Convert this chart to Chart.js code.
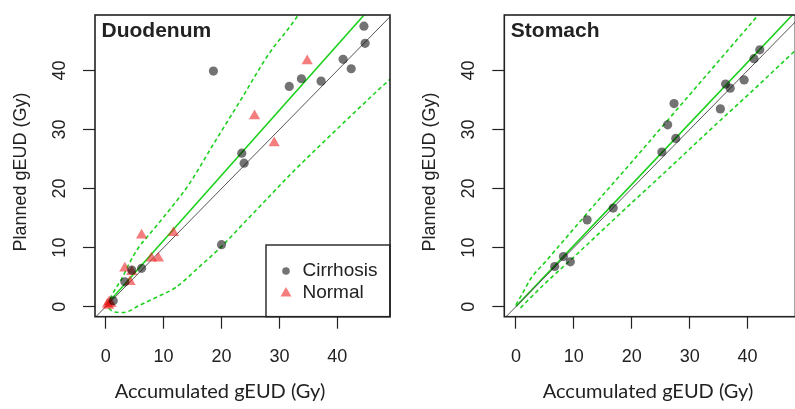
<!DOCTYPE html>
<html lang="en">
<head>
<meta charset="UTF-8">
<title>Planned vs accumulated gEUD</title>
<script src="https://cdn.jsdelivr.net/npm/chart.js"></script>
<style>
    body {
        margin: 0;
        background: #fff;
        width: 795px;
        height: 409px;
        overflow: hidden;
        position: relative;
    }
    canvas {
        position: absolute;
        top: 0;
    }
    #duoChart { left: 0; }
    #stoChart { left: 400px; }
</style>
</head>
<body>
<canvas id="duoChart" width="400" height="409"></canvas>
<canvas id="stoChart" width="400" height="409"></canvas>

<script>
// ---- data ----
const xTicks = [0, 10, 20, 30, 40];
const yTicks = [0, 10, 20, 30, 40];
const identity = [-5, 60];   // y = x reference line

// Duodenum
const duoCirrX = [18.6, 44.6, 44.8, 41.0, 42.4, 31.7, 33.8, 37.2, 23.5, 23.9, 20.0, 6.2, 4.5, 3.3, 1.3];
const duoCirrY = [39.9, 47.5, 44.6, 41.9, 40.3, 37.3, 38.6, 38.2, 26.0, 24.3, 10.5, 6.5, 6.2, 4.2, 1.0];
const duoNormX = [34.8, 25.7, 29.1, 6.2, 11.7, 7.9, 9.1, 3.3, 4.5, 4.2, 0.3, 0.6, 0.9, 0.5];
const duoNormY = [41.6, 32.3, 27.7, 12.1, 12.5, 8.2, 8.2, 6.5, 5.9, 4.2, 0.4, 0.8, 0.5, 0.2];
const duoFitX = [0.2, 44.8];
const duoFitY = [0.4, 49.6];
const duoUpX = [0.1, 0.45, 1.5, 2.8, 4, 5.6, 7.5, 9.7, 12, 14.3, 18.9, 23.5, 28.1, 32.7, 34];
const duoUpY = [0.3, 0.85, 2.7, 4.8, 7.2, 9.9, 12.2, 14.8, 17.6, 20.6, 28.0, 35.3, 42.7, 48.6, 50.6];
const duoLoX = [0.5, 1.5, 3, 6, 9, 12, 16, 20, 24, 28, 32, 37, 42, 47.4, 50];
const duoLoY = [-0.3, -0.9, -1.0, 0.3, 1.7, 3.2, 6.6, 10.2, 14.3, 18.4, 22.5, 27.3, 32.0, 37.0, 39.3];

// Stomach
const stoCirrX = [6.7, 8.2, 9.4, 12.3, 16.8, 25.2, 26.2, 27.6, 27.3, 35.3, 36.2, 37.0, 39.4, 41.1, 42.1];
const stoCirrY = [6.8, 8.5, 7.6, 14.7, 16.7, 26.2, 30.8, 28.5, 34.4, 33.5, 37.7, 37.0, 38.4, 42.0, 43.5];
const stoFitX = [0, 48.5];
const stoFitY = [0, 50.2];
const stoUpX = [0, 1, 2.6, 5, 10, 15, 20, 25, 30, 35, 40, 43.5];
const stoUpY = [0.3, 2.0, 4.8, 7.5, 13.2, 18.9, 24.5, 30.2, 35.9, 41.6, 47.3, 51.3];
const stoLoX = [0.8, 2, 5, 10, 15, 20, 25, 30, 35, 40, 45, 49];
const stoLoY = [-0.2, 1.0, 3.9, 8.4, 13.0, 17.6, 22.1, 26.7, 31.3, 35.8, 40.4, 44.1];

// ---- styling ----
const INK = '#222';
const GRAY_PT = 'rgba(0,0,0,0.55)';
const RED_PT = 'rgba(235,20,20,0.55)';
const GREEN = '#1fd11f';
const ARIAL = '"Liberation Sans", Arial, sans-serif';

Chart.defaults.font.family = ARIAL;

function pts(xs, ys) {
    return xs.map((x, i) => ({ x: x, y: ys[i] }));
}

function pointSet(label, xs, ys, style, color, r) {
    return {
        label: label,
        data: pts(xs, ys),
        pointStyle: style,
        pointRadius: r,
        pointBackgroundColor: color,
        pointBorderWidth: 0,
        showLine: false
    };
}

function lineSet(xs, ys, color, width, dash) {
    return {
        data: pts(xs, ys),
        showLine: true,
        borderColor: color,
        borderWidth: width,
        borderDash: dash || [],
        pointRadius: 0,
        cubicInterpolationMode: 'monotone'
    };
}

// draws the R-style frame, rotated y labels, titles and legend
const rFrame = {
    id: 'rFrame',
    afterDraw(chart, args, opts) {
        const { ctx, chartArea: a, scales: { y } } = chart;
        ctx.save();
        ctx.strokeStyle = INK;
        ctx.lineWidth = 1.6;
        ctx.strokeRect(a.left, a.top, a.right - a.left, a.bottom - a.top);

        ctx.fillStyle = INK;
        ctx.font = '18px ' + ARIAL;
        ctx.textAlign = 'center';
        ctx.textBaseline = 'middle';
        yTicks.forEach(v => {
            ctx.save();
            ctx.translate(a.left - 35, y.getPixelForValue(v));
            ctx.rotate(-Math.PI / 2);
            ctx.fillText(String(v), 0, 0);
            ctx.restore();
        });
        ctx.save();
        ctx.translate(a.left - 74, 172);
        ctx.rotate(-Math.PI / 2);
        ctx.fillText('Planned gEUD (Gy)', 0, 0);
        ctx.restore();

        ctx.textBaseline = 'alphabetic';
        ctx.font = '20px Lato, ' + ARIAL;
        ctx.fillText('Accumulated gEUD (Gy)', opts.xTitleX, 398);

        ctx.textAlign = 'left';
        ctx.font = 'bold 21px ' + ARIAL;
        ctx.fillText(opts.title, a.left + 6.5, 37);

        if (opts.legend) {
            const lx = 266, ly = 245;
            ctx.lineWidth = 1.4;
            ctx.strokeRect(lx, ly, a.right - lx, a.bottom - ly);
            ctx.fillStyle = GRAY_PT;
            ctx.beginPath();
            ctx.arc(286, 271, 3.8, 0, Math.PI * 2);
            ctx.fill();
            ctx.fillStyle = RED_PT;
            ctx.beginPath();
            ctx.moveTo(286, 287);
            ctx.lineTo(291.5, 296.5);
            ctx.lineTo(280.5, 296.5);
            ctx.closePath();
            ctx.fill();
            ctx.fillStyle = INK;
            ctx.font = '19px ' + ARIAL;
            ctx.textBaseline = 'middle';
            ctx.fillText('Cirrhosis', 302.5, 271);
            ctx.fillText('Normal', 302.5, 293);
        }
        ctx.restore();
    }
};

function makeChart(id, datasets, cfg) {
    return new Chart(document.getElementById(id), {
        type: 'scatter',
        data: { datasets: datasets },
        options: {
            responsive: false,
            animation: false,
            devicePixelRatio: 1,
            layout: { padding: { left: 0, top: 15, right: cfg.padRight, bottom: 0 } },
            plugins: {
                legend: { display: false },
                tooltip: { enabled: false },
                rFrame: cfg.frame
            },
            scales: {
                x: {
                    type: 'linear',
                    min: cfg.xMin,
                    max: cfg.xMax,
                    afterBuildTicks: s => { s.ticks = xTicks.map(v => ({ value: v })); },
                    afterFit: s => { s.height = 92.3; },
                    border: { display: false },
                    grid: { drawOnChartArea: false, drawTicks: true, tickLength: 12, color: INK, tickColor: INK, tickWidth: 1.2 },
                    ticks: { color: INK, font: { size: 18 }, padding: 18, maxRotation: 0 }
                },
                y: {
                    type: 'linear',
                    min: -1.7,
                    max: 49.4,
                    afterBuildTicks: s => { s.ticks = yTicks.map(v => ({ value: v })); },
                    afterFit: s => { s.width = cfg.yWidth; },
                    border: { display: false },
                    grid: { drawOnChartArea: false, drawTicks: true, tickLength: 12, color: INK, tickColor: INK, tickWidth: 1.2 },
                    ticks: { display: false }
                }
            }
        },
        plugins: [rFrame]
    });
}

makeChart('duoChart', [
    pointSet('Cirrhosis', duoCirrX, duoCirrY, 'circle', GRAY_PT, 4.6),
    pointSet('Normal', duoNormX, duoNormY, 'triangle', RED_PT, 6.5),
    lineSet(identity, identity, '#555', 1),
    lineSet(duoFitX, duoFitY, GREEN, 1.6),
    lineSet(duoUpX, duoUpY, GREEN, 1.6, [4, 3]),
    lineSet(duoLoX, duoLoY, GREEN, 1.6, [4, 3])
], {
    padRight: 10, yWidth: 95, xMin: -1.85, xMax: 49.1,
    frame: { title: 'Duodenum', legend: true, xTitleX: 220 }
});

makeChart('stoChart', [
    pointSet('Cirrhosis', stoCirrX, stoCirrY, 'circle', GRAY_PT, 4.6),
    lineSet(identity, identity, '#555', 1),
    lineSet(stoFitX, stoFitY, GREEN, 1.6),
    lineSet(stoUpX, stoUpY, GREEN, 1.6, [4, 3]),
    lineSet(stoLoX, stoLoY, GREEN, 1.6, [4, 3])
], {
    padRight: 0.7, yWidth: 104.3, xMin: -2.0, xMax: 48.25,
    frame: { title: 'Stomach', legend: false, xTitleX: 248 }
});
</script>
</body>
</html>
